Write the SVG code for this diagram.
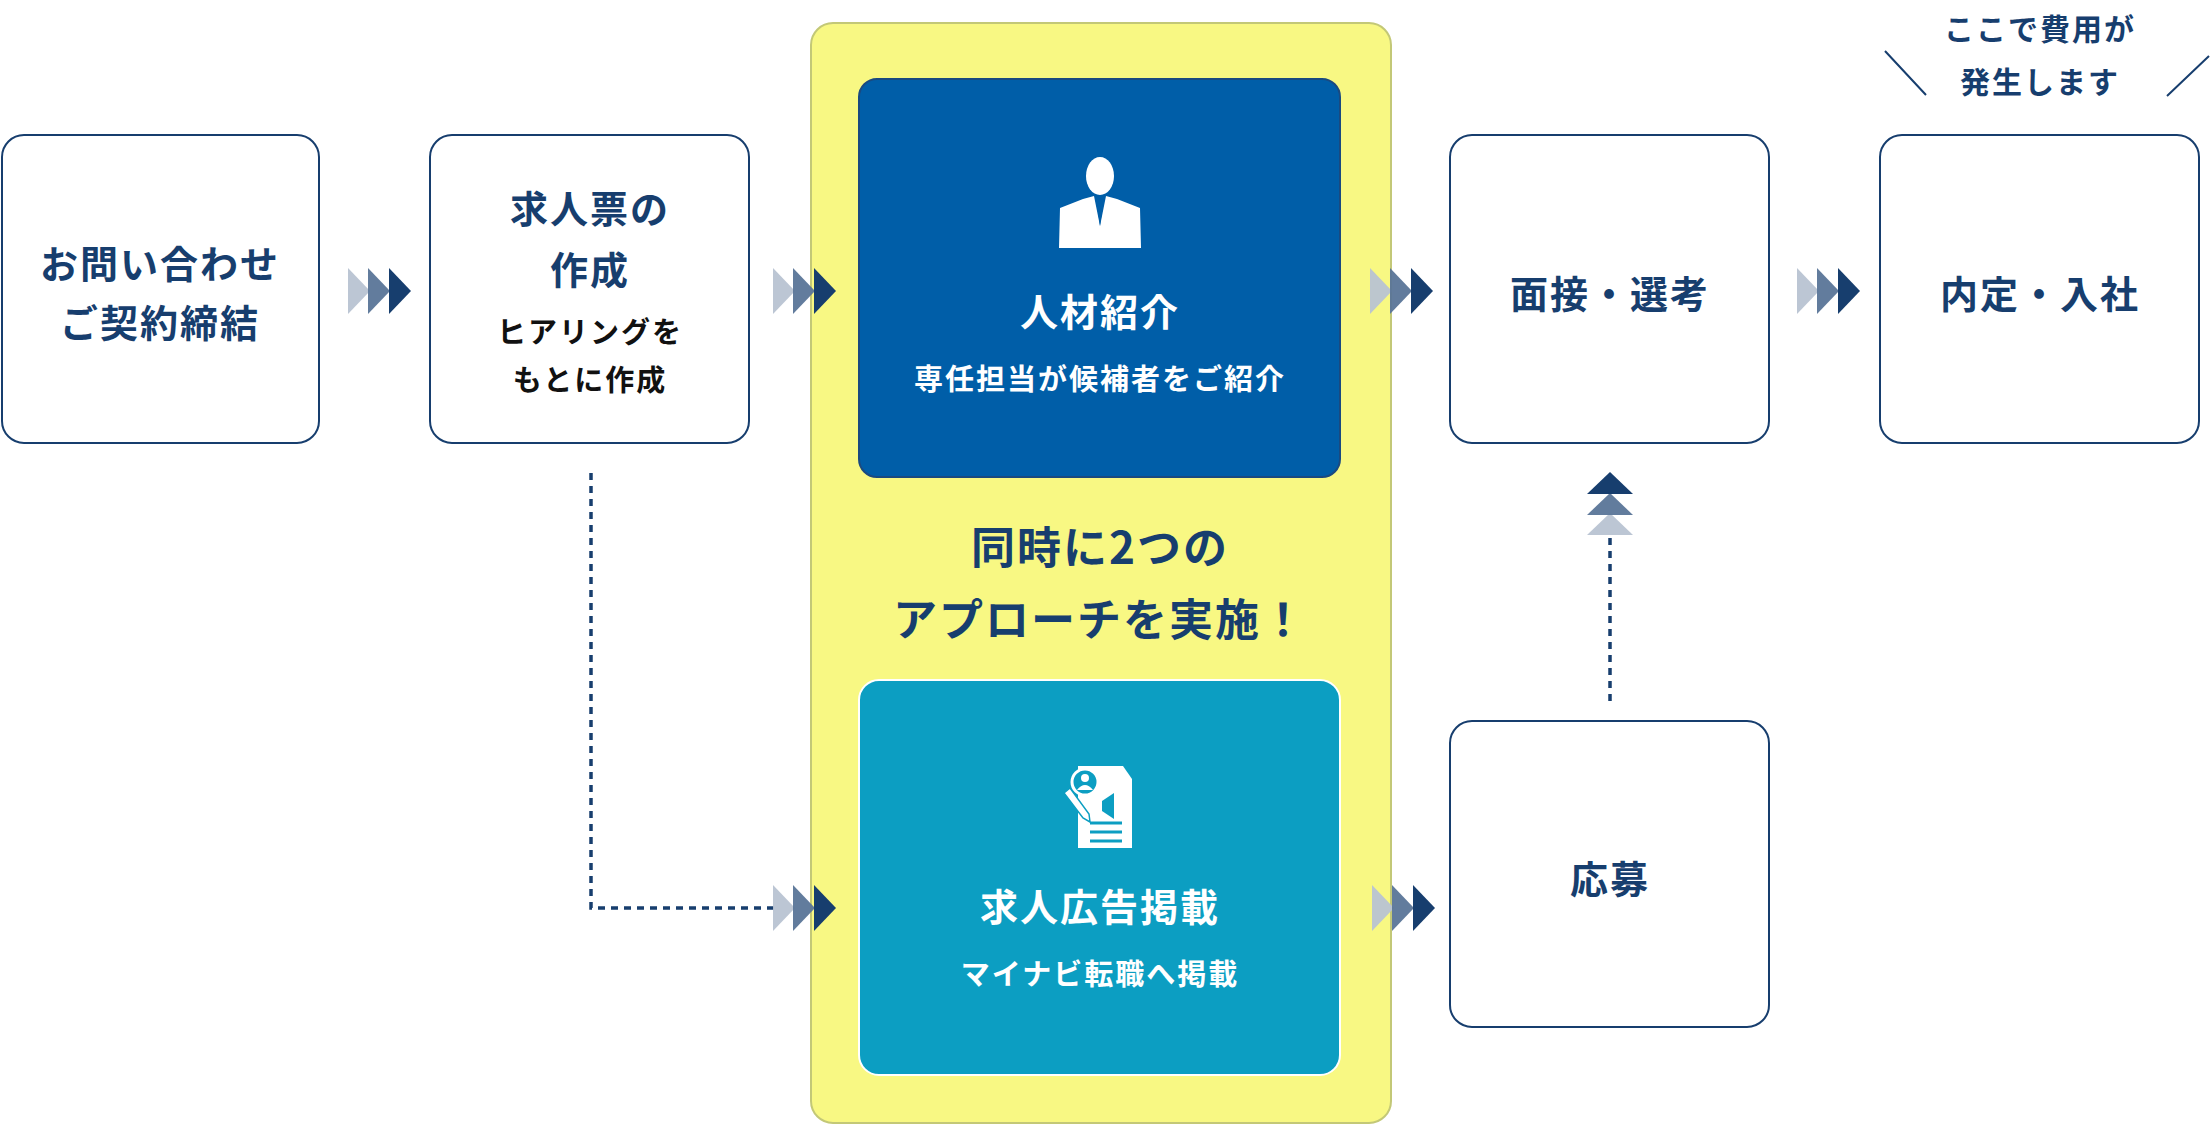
<svg xmlns="http://www.w3.org/2000/svg" width="2212" height="1126" viewBox="0 0 2212 1126">
<style>
.box{fill:#fff;stroke:#173e6e;stroke-width:2}
text{font-family:"Noto Sans CJK JP","Noto Sans",sans-serif;font-weight:700;text-anchor:middle;dominant-baseline:central}
.n{fill:#173e6e;font-size:38px;letter-spacing:2px}
.s{fill:#111;font-size:29px;letter-spacing:2px}
.w{fill:#fff;font-size:38px;letter-spacing:2px}
.ws{fill:#fff;font-size:29px;letter-spacing:2px}
.dot{fill:none;stroke:#173e6e;stroke-width:3.5;stroke-dasharray:7 6}
</style>
<defs>
<g id="chev">
<polygon points="0,-23 22,0 0,23" fill="#b8c3d2" opacity="0.95"/>
<polygon points="20,-23 42,0 20,23" fill="#5a7598" opacity="0.95"/>
<polygon points="41,-23 63,0 41,23" fill="#173e6e"/>
</g>
</defs>
<g id="panel"><rect x="811" y="23" width="580" height="1100" rx="22" fill="#f8f883" stroke="#c3c877" stroke-width="2"/>
<text class="n" x="1100" y="545" style="font-size:44px">同時に2つの</text>
<text class="n" x="1100" y="617" style="font-size:44px">アプローチを実施！</text></g>
<g id="connectors">
<path class="dot" d="M591 473 V908 H775"/>
<path class="dot" d="M1610 701 V536"/>
<use href="#chev" x="348" y="291"/>
<use href="#chev" x="773" y="291"/>
<use href="#chev" x="1370" y="291"/>
<use href="#chev" x="1797" y="291"/>
<use href="#chev" x="773" y="908"/>
<use href="#chev" x="1372" y="908"/>
<g transform="translate(1610,535) rotate(-90)"><use href="#chev"/></g>
<path d="M1885 51 L1926 95 M2209 56 L2167 96" stroke="#173e6e" stroke-width="2"/>
</g>
<g id="note"><text class="n" x="2040" y="27" style="font-size:30px">ここで費用が</text><text class="n" x="2040" y="80" style="font-size:30px">発生します</text></g>
<g id="n1"><rect class="box" x="2" y="135" width="317" height="308" rx="22"/><text class="n" x="160" y="261">お問い合わせ</text><text class="n" x="160" y="320">ご契約締結</text></g>
<g id="n2"><rect class="box" x="430" y="135" width="319" height="308" rx="22"/><text class="n" x="590" y="206">求人票の</text><text class="n" x="590" y="267">作成</text><text class="s" x="590" y="330">ヒアリングを</text><text class="s" x="590" y="378">もとに作成</text></g>
<g id="n3"><rect x="859" y="79" width="481" height="398" rx="18" fill="#005ea8" stroke="#1a4a80" stroke-width="2"/>
<g fill="#fff"><ellipse cx="1100" cy="176" rx="14" ry="19"/><path d="M1083 199 L1094 196 L1100 226 L1106 196 L1117 199 L1140 208 L1141 248 L1059 248 L1060 208 Z"/></g>
<path d="M1100 198 L1097 204 L1100 226 L1103 204 Z" fill="#005ea8"/>
<text class="w" x="1100" y="309">人材紹介</text><text class="ws" x="1100" y="377">専任担当が候補者をご紹介</text></g>
<g id="n4"><rect x="859" y="680" width="481" height="395" rx="20" fill="#0c9ec2" stroke="#fff" stroke-width="2"/>
<g fill="#fff"><path d="M1078 766 H1123 L1132 779 V848 H1078 Z"/></g>
<g stroke="#0c9ec2" stroke-width="3"><path d="M1090 823 H1122 M1090 832 H1122 M1090 841 H1122"/></g>
<circle cx="1085" cy="782" r="13" fill="#0c9ec2" stroke="#fff" stroke-width="3"/><circle cx="1085" cy="778" r="4" fill="#fff"/><path d="M1077 790 Q1085 780 1093 790 Z" fill="#fff"/>
<path d="M1064 793 L1070 788 L1089 814 L1090 822 L1083 818 Z" fill="#fff" stroke="#0c9ec2" stroke-width="1.5"/>
<path d="M1102 801 L1114 793 V819 L1102 811 Z" fill="#0c9ec2"/>
<text class="w" x="1100" y="904">求人広告掲載</text><text class="ws" x="1100" y="972">マイナビ転職へ掲載</text></g>
<g id="n5"><rect class="box" x="1450" y="135" width="319" height="308" rx="22"/><text class="n" x="1610" y="291">面接・選考</text></g>
<g id="n6"><rect class="box" x="1880" y="135" width="319" height="308" rx="22"/><text class="n" x="2040" y="291">内定・入社</text></g>
<g id="n7"><rect class="box" x="1450" y="721" width="319" height="306" rx="22"/><text class="n" x="1610" y="876">応募</text></g>
</svg>
